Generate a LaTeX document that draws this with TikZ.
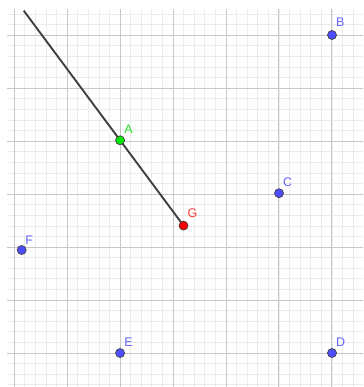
\documentclass[tikz,border=0pt]{standalone}
\usepackage{fontspec}
\setmainfont{Liberation Sans}
\usetikzlibrary{calc}
\definecolor{ptblue}{RGB}{77,77,255}
\definecolor{lblblue}{RGB}{100,100,255}
\definecolor{ptgreen}{RGB}{0,230,0}
\definecolor{lblgreen}{RGB}{40,220,40}
\definecolor{ptred}{RGB}{255,0,0}
\definecolor{lblred}{RGB}{255,60,60}
\definecolor{minorgrid}{RGB}{236,236,236}
\definecolor{majorgrid}{RGB}{200,200,200}
\definecolor{linegray}{RGB}{64,64,64}
\begin{document}
\begin{tikzpicture}[x=1pt,y=-1pt,
  minorline/.style={draw=minorgrid,line width=0.8pt},
  majorline/.style={draw=majorgrid,line width=1pt},
  geopt/.style={circle,draw=black!75,line width=0.7pt,inner sep=0pt,minimum size=9pt},
  bluept/.style={geopt,fill=ptblue},
  lbl/.style={anchor=base west,inner sep=0pt,font=\fontsize{12.5}{13}\selectfont}]
\useasboundingbox (0,0) rectangle (363,387);
\fill[white] (0,0) rectangle (363,387);
\begin{scope}
  \clip (7,10) rectangle (363,387);
  \foreach \i in {-1,...,33} {\draw[minorline] ({14.2+\i*10.59},0) -- ({14.2+\i*10.59},400);}
  \foreach \i in {-33,...,4} {\draw[minorline] (0,{353+\i*10.59}) -- (400,{353+\i*10.59});}
  \foreach \i in {0,...,6} {\draw[majorline] ({14.2+\i*52.95},0) -- ({14.2+\i*52.95},400);}
  \foreach \i in {-6,...,0} {\draw[majorline] (0,{353+\i*52.95}) -- (400,{353+\i*52.95});}
\end{scope}
\coordinate (Apos) at (120.1,140.3);
\coordinate (Gpos) at (183.5,225.6);
\coordinate (rayend) at ($(Gpos)!2.52!(Apos)$);
\begin{scope}
  \clip (7,10) rectangle (363,387);
  \draw[linegray,line width=1.9pt] (Gpos) -- (rayend);
\end{scope}
\node[geopt,fill=ptgreen] (A) at (Apos) {};
\node[geopt,fill=ptred] (G) at (Gpos) {};
\node[bluept] (B) at (332,35) {};
\node[bluept] (C) at (279,193.2) {};
\node[bluept] (D) at (332,353) {};
\node[bluept] (E) at (120.1,353) {};
\node[bluept] (F) at (21.7,250) {};
\node[lbl,text=lblgreen] at ($(A)+(4,-7)$) {A};
\node[lbl,text=lblblue] at ($(B)+(4,-8)$) {B};
\node[lbl,text=lblblue] at ($(C)+(4,-7)$) {C};
\node[lbl,text=lblblue] at ($(D)+(4,-7)$) {D};
\node[lbl,text=lblblue] at ($(E)+(4,-7)$) {E};
\node[lbl,text=lblblue] at ($(F)+(3.5,-6)$) {F};
\node[lbl,text=lblred] at ($(G)+(4,-8)$) {G};
\end{tikzpicture}
\end{document}
